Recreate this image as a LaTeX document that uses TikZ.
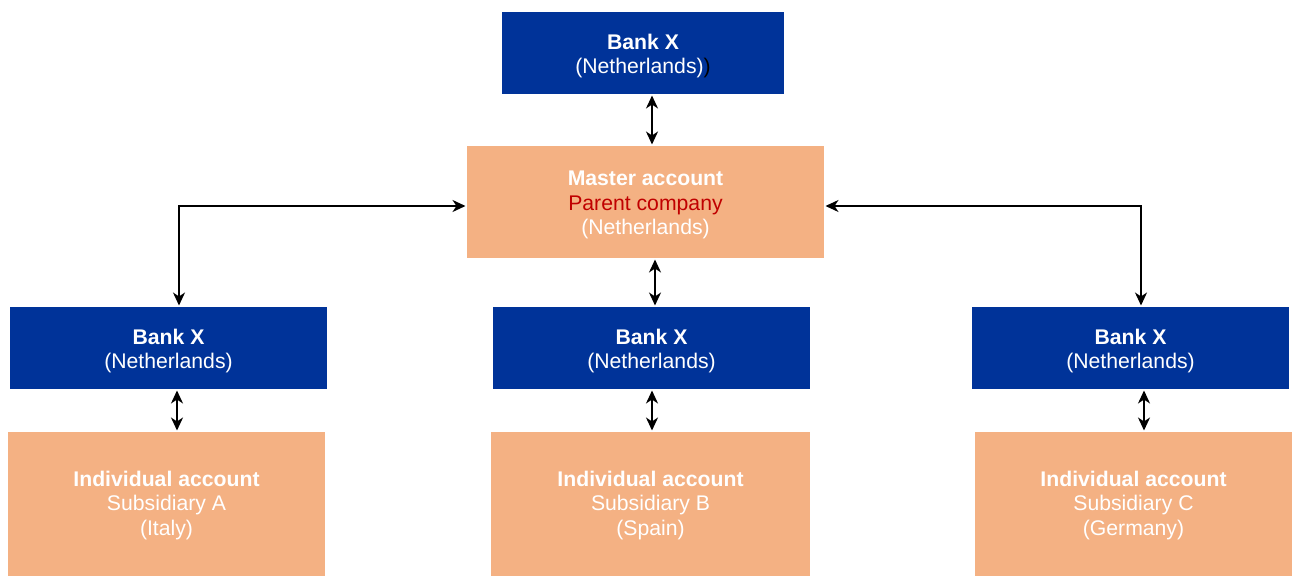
\documentclass[tikz,border=0pt]{standalone}
\usepackage{fontspec}
\setmainfont{Liberation Sans}
\usetikzlibrary{arrows.meta}
\definecolor{bankblue}{RGB}{0,51,153}
\definecolor{acctorange}{RGB}{244,177,131}
\definecolor{darkred}{RGB}{192,0,0}
\begin{document}
\begin{tikzpicture}[x=1pt,y=-1pt,
  every node/.style={inner sep=0pt,outer sep=0pt,align=center,font=\fontsize{21.2}{24.5}\selectfont},
  bankbox/.style={fill=bankblue,minimum width=317pt,minimum height=82pt},
  acctbox/.style={fill=acctorange,minimum width=317pt,minimum height=144pt},
  txt/.style={text=white},
  arr/.style={line width=1.8pt,{Stealth[length=13pt,width=12pt,inset=4pt]}-{Stealth[length=13pt,width=12pt,inset=4pt]},shorten <=1.5pt,shorten >=1.5pt}]
\useasboundingbox (0,0) rectangle (1293,583);
\node[bankbox,minimum width=282pt] (top) at (643,53) {};
\node[txt] (toptext) at ([yshift=-3pt]top.center) {\textbf{Bank X}\\(Netherlands){\color{black})}};
\node[acctbox,minimum width=357pt,minimum height=112pt] (master) at (645.5,202) {};
\node[txt] (mastertext) at ([yshift=-3pt]master.center)
  {\textbf{Master account}\\{\color{darkred}Parent company}\\(Netherlands)};
\node[bankbox] (bl) at (168.5,348) {};
\node[bankbox] (bm) at (651.5,348) {};
\node[bankbox] (br) at (1130.5,348) {};
\node[txt] (bltext) at ([yshift=-3pt]bl.center) {\textbf{Bank X}\\(Netherlands)};
\node[txt] (bmtext) at ([yshift=-3pt]bm.center) {\textbf{Bank X}\\(Netherlands)};
\node[txt] (brtext) at ([yshift=-3pt]br.center) {\textbf{Bank X}\\(Netherlands)};
\node[acctbox] (il) at (166.5,504) {};
\node[acctbox,minimum width=319pt] (im) at (650.5,504) {};
\node[acctbox] (ir) at (1133.5,504) {};
\node[txt] (iltext) at ([yshift=-1.5pt]il.center) {\textbf{Individual account}\\Subsidiary A\\(Italy)};
\node[txt] (imtext) at ([yshift=-1.5pt]im.center) {\textbf{Individual account}\\Subsidiary B\\(Spain)};
\node[txt] (irtext) at ([yshift=-1.5pt]ir.center) {\textbf{Individual account}\\Subsidiary C\\(Germany)};
\draw[arr] ([xshift=9pt]top.south) -- ([xshift=6.5pt]master.north);
\draw[arr] ([xshift=9.5pt]master.south) -- ([xshift=3.5pt]bm.north);
\draw[arr] ([yshift=-4pt]master.west) -| ([xshift=10.5pt]bl.north);
\draw[arr] ([yshift=-4pt]master.east) -| ([xshift=10.5pt]br.north);
\draw[arr] ([xshift=8.5pt]bl.south) -- ([xshift=10.5pt]il.north);
\draw[arr] ([xshift=0.5pt]bm.south) -- ([xshift=1.5pt]im.north);
\draw[arr] ([xshift=13.5pt]br.south) -- ([xshift=10.5pt]ir.north);
\end{tikzpicture}
\end{document}
